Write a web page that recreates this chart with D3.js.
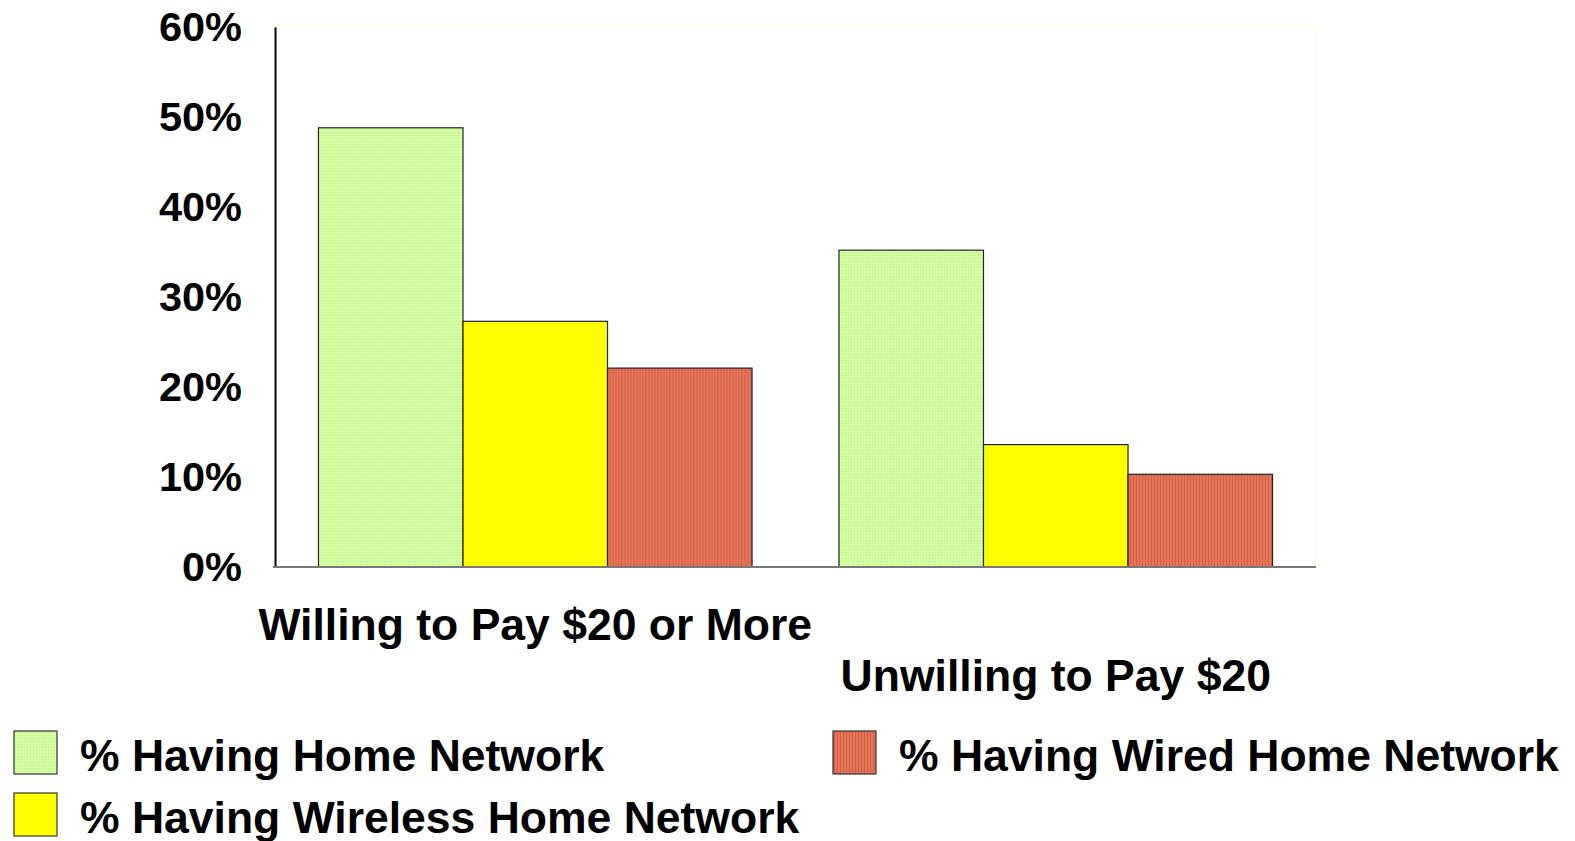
<!DOCTYPE html>
<html>
<head>
<meta charset="utf-8">
<script src="https://cdn.jsdelivr.net/npm/d3@7"></script>
<style>
  html, body { margin: 0; padding: 0; background: #ffffff; }
  svg { display: block; }
  text { font-family: "Liberation Sans", Arial, Helvetica, sans-serif; font-weight: bold; fill: #000; }
</style>
</head>
<body>
<svg id="chart" width="1575" height="841"></svg>
<script>
// ---- data ----
const categories = ["Willing to Pay $20 or More", "Unwilling to Pay $20"];
const seriesNames = ["% Having Home Network", "% Having Wireless Home Network", "% Having Wired Home Network"];
const homeNetwork = [48.8, 35.2];
const wirelessNetwork = [27.3, 13.6];
const wiredNetwork = [22.1, 10.3];
const yTicks = [0, 10, 20, 30, 40, 50, 60];
const yTickLabels = ["0%", "10%", "20%", "30%", "40%", "50%", "60%"];

const seriesValues = [homeNetwork, wirelessNetwork, wiredNetwork];
const fills = ["url(#patGreen)", "#ffff00", "url(#patRed)"];

const svg = d3.select("#chart");

// patterns
const defs = svg.append("defs");
const pg = defs.append("pattern").attr("id", "patGreen").attr("patternUnits", "userSpaceOnUse")
  .attr("width", 3).attr("height", 3);
pg.append("rect").attr("width", 3).attr("height", 3).attr("fill", "#d2ff9c");
pg.append("rect").attr("x", 0).attr("y", 0).attr("width", 1).attr("height", 1).attr("fill", "#b4ee7c");
pg.append("rect").attr("x", 1.5).attr("y", 1.5).attr("width", 1).attr("height", 1).attr("fill", "#e8ffd0");

const pr = defs.append("pattern").attr("id", "patRed").attr("patternUnits", "userSpaceOnUse")
  .attr("width", 3).attr("height", 3);
pr.append("rect").attr("width", 3).attr("height", 3).attr("fill", "#e8755a");
pr.append("rect").attr("x", 0).attr("y", 0).attr("width", 1).attr("height", 3).attr("fill", "#cd5f46");

// scales
const plotLeft = 275, plotRight = 1316, plotTop = 27, plotBottom = 567;
const x0 = d3.scaleBand().domain(categories).range([plotLeft, plotRight])
  .paddingInner(0.167).paddingOuter(0.0835);
const x1 = d3.scaleBand().domain(d3.range(seriesNames.length)).range([0, x0.bandwidth()]).padding(0);
const y = d3.scaleLinear().domain([0, 60]).range([plotBottom, plotTop]);

// faint plot border
svg.append("path")
  .attr("d", `M${plotLeft},${plotTop}H${plotRight}V${plotBottom}`)
  .attr("fill", "none").attr("stroke", "#fffbe0").attr("stroke-width", 1.5);

// bars
categories.forEach((cat, ci) => {
  const g = svg.append("g").attr("transform", `translate(${x0(cat)},0)`);
  seriesValues.forEach((vals, si) => {
    g.append("rect")
      .attr("x", x1(si))
      .attr("y", y(vals[ci]))
      .attr("width", x1.bandwidth())
      .attr("height", y(0) - y(vals[ci]))
      .attr("fill", fills[si])
      .attr("stroke", "#222")
      .attr("stroke-width", 1.2);
  });
});

// y axis
const yAxis = d3.axisLeft(y).tickValues(yTicks).tickFormat((d, i) => yTickLabels[i]).tickSize(0).tickPadding(33);
const ya = svg.append("g").attr("transform", `translate(${plotLeft},0)`).call(yAxis);
ya.select(".domain").attr("stroke", "#000").attr("stroke-width", 2);
ya.selectAll(".tick text")
  .attr("font-size", 41.5).attr("font-family", null).attr("dy", "0.32em");

// zero baseline
svg.append("line")
  .attr("x1", plotLeft - 2).attr("x2", plotRight)
  .attr("y1", y(0)).attr("y2", y(0))
  .attr("stroke", "#777").attr("stroke-width", 2);

// category labels (staggered)
const catBaselines = [640, 691];
categories.forEach((cat, ci) => {
  svg.append("text")
    .attr("x", x0(cat) + x0.bandwidth() / 2)
    .attr("y", catBaselines[ci])
    .attr("text-anchor", "middle")
    .attr("font-size", 44.5)
    .text(cat);
});

// legend
const legendPos = [
  { sx: 14, sy: 731, tx: 80, ty: 771 },
  { sx: 14, sy: 793, tx: 80, ty: 833 },
  { sx: 833, sy: 731, tx: 899, ty: 771 }
];
seriesNames.forEach((name, si) => {
  const p = legendPos[si];
  svg.append("rect")
    .attr("x", p.sx).attr("y", p.sy).attr("width", 43).attr("height", 43)
    .attr("fill", fills[si]).attr("stroke", "#333").attr("stroke-width", 1.2);
  svg.append("text")
    .attr("x", p.tx).attr("y", p.ty)
    .attr("font-size", 44.5)
    .text(name);
});
</script>
</body>
</html>
